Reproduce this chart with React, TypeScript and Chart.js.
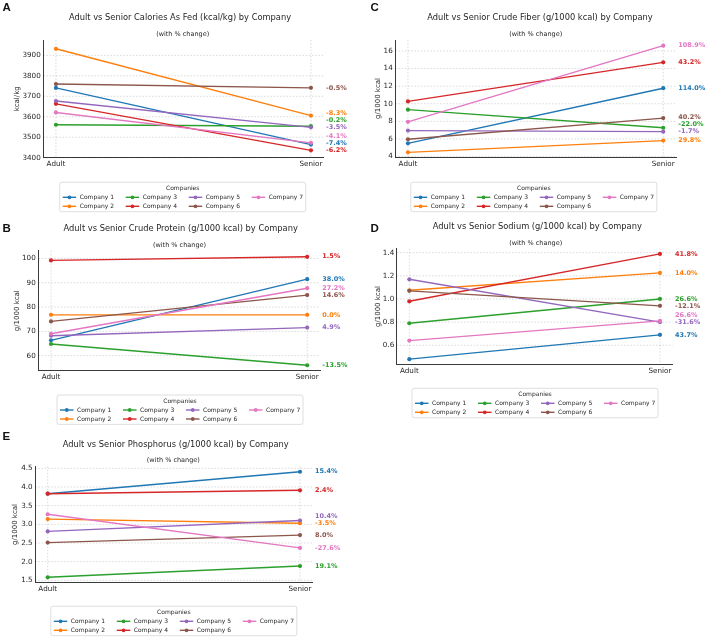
import React, { useEffect, useRef } from 'react';
import { Chart, registerables } from 'chart.js';

Chart.register(...registerables);

// ---- data -------------------------------------------------------------
const companies = ['Company 1', 'Company 2', 'Company 3', 'Company 4', 'Company 5', 'Company 6', 'Company 7'];
const companyColors = ['#1f77b4', '#ff7f0e', '#2ca02c', '#d62728', '#9467bd', '#8c564b', '#e377c2'];
const lifeStages = ['Adult', 'Senior'];

// Calories as fed (kcal/kg): adult values and % change to senior
const caloriesAdult = [3741, 3932, 3561, 3663, 3677, 3760, 3621];
const caloriesChange = [-7.4, -8.3, -0.2, -6.2, -3.5, -0.5, -4.1];
const caloriesTicks = ['3400', '3500', '3600', '3700', '3800', '3900'];

// Crude protein (g/1000 kcal)
const proteinAdult = [66.3, 76.8, 64.8, 99.2, 68.2, 74.1, 69.0];
const proteinChange = [38.0, 0.0, -13.5, 1.5, 4.9, 14.6, 27.2];
const proteinTicks = ['60', '70', '80', '90', '100'];

// Crude fiber (g/1000 kcal)
const fiberAdult = [5.5, 4.48, 9.33, 10.27, 6.95, 5.97, 7.95];
const fiberChange = [114.0, 29.8, -22.0, 43.2, -1.7, 40.2, 108.9];
const fiberTicks = ['4', '6', '8', '10', '12', '14', '16'];

// Sodium (g/1000 kcal)
const sodiumAdult = [0.48, 1.075, 0.79, 0.98, 1.17, 1.07, 0.64];
const sodiumChange = [43.7, 14.0, 26.6, 41.8, -31.6, -12.1, 26.6];
const sodiumTicks = ['0.6', '0.8', '1.0', '1.2', '1.4'];

// Phosphorus (g/1000 kcal)
const phosphorusAdult = [3.82, 3.14, 1.58, 3.82, 2.81, 2.51, 3.27];
const phosphorusChange = [15.4, -3.5, 19.1, 2.4, 10.4, 8.0, -27.6];
const phosphorusTicks = ['1.5', '2.0', '2.5', '3.0', '3.5', '4.0', '4.5'];

// ---- layout (page pixels) ---------------------------------------------
type Layout = {
  box: [number, number, number, number];
  plot: { l: number; r: number; t: number; b: number };
  yRange: [number, number];
  letter: [number, number];
  title: [number, number];
  sub: [number, number];
  yTitleX: number;
  legend: [number, number];
};

const layoutA: Layout = {
  box: [0, 0, 354, 213], plot: { l: 43.2, r: 323.7, t: 40, b: 157.7 }, yRange: [3400, 3975],
  letter: [2.5, 10.5], title: [180, 18], sub: [182.7, 34], yTitleX: 17, legend: [182.7, 182.3],
};
const layoutC: Layout = {
  box: [354, 0, 354, 213], plot: { l: 395.2, r: 676, t: 40, b: 157 }, yRange: [3.95, 17.25],
  letter: [370.5, 10.5], title: [540, 18.3], sub: [535.7, 34.3], yTitleX: 377.7, legend: [533.8, 182.3],
};
const layoutB: Layout = {
  box: [0, 213, 354, 215], plot: { l: 38.2, r: 320, t: 250.7, b: 370.7 }, yRange: [53.8, 103.2],
  letter: [2.5, 231.9], title: [180.7, 229.3], sub: [179.5, 245], yTitleX: 17, legend: [180, 395],
};
const layoutD: Layout = {
  box: [354, 213, 354, 215], plot: { l: 396.8, r: 672.5, t: 248.7, b: 364.4 }, yRange: [0.4345, 1.4345],
  letter: [370.5, 231.9], title: [537.3, 227.3], sub: [535.7, 243.3], yTitleX: 377.7, legend: [535, 388.3],
};
const layoutE: Layout = {
  box: [0, 428, 354, 210], plot: { l: 35.1, r: 312.6, t: 466.4, b: 582.6 }, yRange: [1.4385, 4.5515],
  letter: [2.5, 440.2], title: [175.7, 445], sub: [173.3, 460.7], yTitleX: 15.5, legend: [173.8, 606.3],
};

type PanelSpec = {
  letter: string;
  title: string;
  yTitle: string;
  adult: number[];
  change: number[];
  ticks: string[];
  layout: Layout;
};

const panels: PanelSpec[] = [
  { letter: 'A', title: 'Adult vs Senior Calories As Fed (kcal/kg) by Company', yTitle: 'kcal/kg',
    adult: caloriesAdult, change: caloriesChange, ticks: caloriesTicks, layout: layoutA },
  { letter: 'C', title: 'Adult vs Senior Crude Fiber (g/1000 kcal) by Company', yTitle: 'g/1000 kcal',
    adult: fiberAdult, change: fiberChange, ticks: fiberTicks, layout: layoutC },
  { letter: 'B', title: 'Adult vs Senior Crude Protein (g/1000 kcal) by Company', yTitle: 'g/1000 kcal',
    adult: proteinAdult, change: proteinChange, ticks: proteinTicks, layout: layoutB },
  { letter: 'D', title: 'Adult vs Senior Sodium (g/1000 kcal) by Company', yTitle: 'g/1000 kcal',
    adult: sodiumAdult, change: sodiumChange, ticks: sodiumTicks, layout: layoutD },
  { letter: 'E', title: 'Adult vs Senior Phosphorus (g/1000 kcal) by Company', yTitle: 'g/1000 kcal',
    adult: phosphorusAdult, change: phosphorusChange, ticks: phosphorusTicks, layout: layoutE },
];

// ---- styling ------------------------------------------------------------
const FONT = '"DejaVu Sans", sans-serif';
const TEXT = '#262626';
const X_AXIS_H = 14;
const Y_TITLE_SIZE = 7;
const LABEL_GAP = 7;
const LEGEND_W = 246;
const LEGEND_H = 29.4;
const LEGEND_PITCH = 63;

const seniorOf = (adult: number[], change: number[]) => adult.map((v, i) => v * (1 + change[i] / 100));
const fmtPct = (p: number) => `${p.toFixed(1)}%`;

function decorPlugin(spec: PanelSpec, senior: number[]) {
  const L = spec.layout;
  const ox = L.box[0];
  const oy = L.box[1];
  return {
    id: 'panelDecor',
    beforeDatasetsDraw(chart: any) {
      const { ctx, chartArea: a, scales } = chart;
      ctx.save();
      ctx.strokeStyle = 'rgba(0,0,0,0.18)';
      ctx.lineWidth = 0.8;
      ctx.setLineDash([1.6, 1.6]);
      for (const t of spec.ticks) {
        const y = scales.y.getPixelForValue(parseFloat(t));
        ctx.beginPath();
        ctx.moveTo(a.left, y);
        ctx.lineTo(a.right, y);
        ctx.stroke();
      }
      lifeStages.forEach((_, i) => {
        const x = scales.x.getPixelForValue(i);
        ctx.beginPath();
        ctx.moveTo(x, a.top);
        ctx.lineTo(x, a.bottom);
        ctx.stroke();
      });
      ctx.restore();
    },
    afterDraw(chart: any) {
      const { ctx, scales } = chart;
      ctx.save();
      ctx.textBaseline = 'alphabetic';
      ctx.fillStyle = '#111';
      ctx.textAlign = 'left';
      ctx.font = 'bold 11.5px "Liberation Sans", Arial, sans-serif';
      ctx.fillText(spec.letter, L.letter[0] - ox, L.letter[1] - oy);

      ctx.textBaseline = 'middle';
      ctx.textAlign = 'center';
      ctx.fillStyle = TEXT;
      ctx.font = `8.3px ${FONT}`;
      ctx.fillText(spec.title, L.title[0] - ox, L.title[1] - oy);
      ctx.font = `6.5px ${FONT}`;
      ctx.fillText('(with % change)', L.sub[0] - ox, L.sub[1] - oy);

      // percent-change labels beside the senior points, pushed upward to avoid overlap
      const ys = senior.map((v) => scales.y.getPixelForValue(v));
      const order = ys.map((_, i) => i).sort((p, q) => ys[q] - ys[p]);
      const labelY: number[] = [];
      let prev = Infinity;
      for (const i of order) {
        const y = Math.min(ys[i], prev - LABEL_GAP);
        labelY[i] = y;
        prev = y;
      }
      const lx = scales.x.getPixelForValue(1) + 15;
      ctx.textAlign = 'left';
      ctx.font = `bold 6.5px ${FONT}`;
      companies.forEach((_, i) => {
        ctx.fillStyle = companyColors[i];
        ctx.fillText(fmtPct(spec.change[i]), lx, labelY[i]);
      });

      // legend
      const bx = L.legend[0] - ox - LEGEND_W / 2;
      const by = L.legend[1] - oy;
      ctx.fillStyle = 'rgba(255,255,255,0.85)';
      ctx.strokeStyle = '#d6d6d6';
      ctx.lineWidth = 0.8;
      ctx.beginPath();
      ctx.roundRect(bx, by, LEGEND_W, LEGEND_H, 2);
      ctx.fill();
      ctx.stroke();
      ctx.fillStyle = TEXT;
      ctx.textAlign = 'center';
      ctx.font = `6px ${FONT}`;
      ctx.fillText('Companies', bx + LEGEND_W / 2, by + 6);
      ctx.textAlign = 'left';
      companies.forEach((name, i) => {
        const col = Math.floor(i / 2);
        const row = i % 2;
        const x0 = bx + col * LEGEND_PITCH;
        const y0 = by + 15 + row * 9;
        ctx.strokeStyle = companyColors[i];
        ctx.lineWidth = 1.4;
        ctx.beginPath();
        ctx.moveTo(x0 + 3, y0);
        ctx.lineTo(x0 + 16.5, y0);
        ctx.stroke();
        ctx.fillStyle = companyColors[i];
        ctx.beginPath();
        ctx.arc(x0 + 9.75, y0, 1.9, 0, Math.PI * 2);
        ctx.fill();
        ctx.fillStyle = TEXT;
        ctx.fillText(name, x0 + 20, y0);
      });
      ctx.restore();
    },
  };
}

function buildConfig(spec: PanelSpec): any {
  const L = spec.layout;
  const [bx, by, bw, bh] = L.box;
  const senior = seniorOf(spec.adult, spec.change);
  const yAxisLeft = L.yTitleX - (Y_TITLE_SIZE * 1.2) / 2;
  const padding = {
    left: yAxisLeft - bx,
    right: bx + bw - L.plot.r,
    top: L.plot.t - by,
    bottom: by + bh - L.plot.b - X_AXIS_H,
  };
  const yWidth = L.plot.l - yAxisLeft;
  const tickValues = spec.ticks.map((t) => parseFloat(t));

  return {
    type: 'line',
    data: {
      datasets: companies.map((name, i) => ({
        label: name,
        data: [
          { x: 0, y: spec.adult[i] },
          { x: 1, y: senior[i] },
        ],
        borderColor: companyColors[i],
        backgroundColor: companyColors[i],
        pointBackgroundColor: companyColors[i],
        pointBorderWidth: 0,
        pointRadius: 2.1,
        borderWidth: 1.4,
        order: companies.length - i,
      })),
    },
    options: {
      responsive: false,
      animation: false,
      devicePixelRatio: 1,
      events: [],
      layout: { padding },
      plugins: {
        legend: { display: false },
        title: { display: false },
        tooltip: { enabled: false },
      },
      scales: {
        x: {
          type: 'linear',
          min: -0.05,
          max: 1.05,
          afterBuildTicks: (s: any) => {
            s.ticks = lifeStages.map((_, i) => ({ value: i }));
          },
          afterFit: (s: any) => {
            s.height = X_AXIS_H;
          },
          ticks: {
            callback: (_v: any, idx: number) => lifeStages[idx],
            font: { family: FONT, size: 7.2 },
            color: TEXT,
            padding: 2.5,
            maxRotation: 0,
            autoSkip: false,
          },
          grid: { display: false, drawTicks: false },
          border: { display: true, color: '#3a3a3a', width: 1 },
        },
        y: {
          type: 'linear',
          min: L.yRange[0],
          max: L.yRange[1],
          afterBuildTicks: (s: any) => {
            s.ticks = tickValues.map((v) => ({ value: v }));
          },
          afterFit: (s: any) => {
            s.width = yWidth;
          },
          ticks: {
            callback: (_v: any, idx: number) => spec.ticks[idx],
            font: { family: FONT, size: 7.2 },
            color: TEXT,
            padding: 2.5,
            autoSkip: false,
          },
          title: {
            display: true,
            text: spec.yTitle,
            font: { family: FONT, size: Y_TITLE_SIZE },
            color: TEXT,
            padding: 0,
          },
          grid: { display: false, drawTicks: false },
          border: { display: true, color: '#3a3a3a', width: 1 },
        },
      },
    },
    plugins: [decorPlugin(spec, senior)],
  };
}

function Panel({ spec }: { spec: PanelSpec }) {
  const ref = useRef<HTMLCanvasElement>(null);
  useEffect(() => {
    if (!ref.current) return;
    const chart = new Chart(ref.current, buildConfig(spec));
    return () => chart.destroy();
  }, [spec]);
  const [x, y, w, h] = spec.layout.box;
  return (
    <canvas
      ref={ref}
      width={w}
      height={h}
      style={{ position: 'absolute', left: x, top: y, width: w, height: h }}
    />
  );
}

export default function App() {
  return (
    <div
      style={{
        position: 'absolute',
        left: 0,
        top: 0,
        width: 708,
        height: 638,
        background: '#ffffff',
        overflow: 'hidden',
      }}
    >
      {panels.map((p) => (
        <Panel key={p.letter} spec={p} />
      ))}
    </div>
  );
}
